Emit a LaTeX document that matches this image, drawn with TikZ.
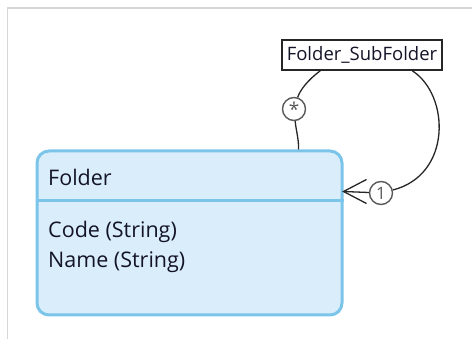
\documentclass[tikz,border=0pt]{standalone}
\usepackage{fontspec}
\setmainfont{Open Sans}
\usetikzlibrary{calc}
\definecolor{entityfill}{RGB}{218,237,250}
\definecolor{entityline}{RGB}{124,197,234}
\definecolor{textdark}{RGB}{20,20,40}
\definecolor{frameline}{RGB}{214,214,214}
\definecolor{markline}{RGB}{90,90,90}
\tikzset{
  entity/.style={draw=entityline, line width=3pt, fill=entityfill,
    rounded corners=12pt, minimum width=305pt, minimum height=164pt,
    inner sep=0pt},
  relbox/.style={draw=black!85, line width=1.5pt, fill=white,
    minimum width=160pt, minimum height=30pt, inner sep=0pt,
    font=\fontsize{18.5}{20}\selectfont, text=textdark},
  mult/.style={circle, draw=markline, line width=1.4pt, fill=white,
    minimum size=23pt, inner sep=0pt, text=markline,
    font=\fontsize{17}{17}\selectfont},
  conn/.style={draw=black!85, line width=1.3pt},
  label/.style={anchor=base west, inner sep=0pt, text=textdark,
    font=\fontsize{21.5}{24}\selectfont}
}
\begin{document}
\begin{tikzpicture}[x=1pt,y=-1pt]
  \useasboundingbox (0,0) rectangle (472,339);
  % outer frame
  \draw[frameline, line width=1.5pt] (7.5,339) -- (7.5,8) -- (472,8);

  % entity
  \node[entity] (folder) at (189.5,233) {};
  \draw[entityline, line width=3pt]
    ($(folder.north west)+(0,51)$) -- ($(folder.north east)+(0,51)$);
  \node[label] (ftitle) at (48,186) {Folder};
  \node[label] (fcode) at (48,238) {Code (String)};
  \node[label] (fname) at (48,268) {Name (String)};

  % association
  \node[relbox] (sub) at (362,55) {Folder\_SubFolder};
  \coordinate (subL) at ($(sub.south west)+(39,0)$);
  \coordinate (subR) at ($(sub.south west)+(131,0)$);
  \coordinate (fTop) at ($(folder.north west)+(263,0)$);
  \coordinate (fRight) at ($(folder.north east)+(0,42)$);

  \node[mult] (many) at (294,109) {\raisebox{-0.45ex}{\fontsize{19}{19}\selectfont *}};
  \node[mult] (one) at (381,193) {1};

  % many end
  \draw[conn] (subL) .. controls (308,80) and (300,90) .. (many);
  \draw[conn] (many) .. controls (296,130) and (299,140) .. (fTop);

  % one end
  \draw[conn] (subR) .. controls (450,95) and (452,175) .. (one);
  \draw[conn] (one) -- (fRight);
  \draw[conn] ($(fRight)+(23,-12)$) -- (fRight) -- ($(fRight)+(23,12)$);
\end{tikzpicture}
\end{document}
